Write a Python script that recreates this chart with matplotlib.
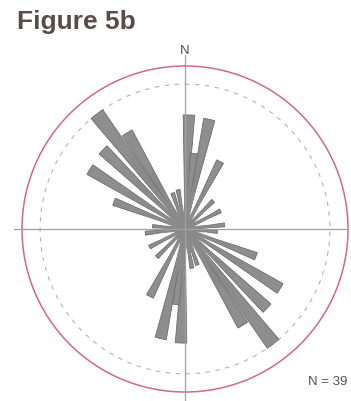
import numpy as np
import matplotlib
matplotlib.use("Agg")
import matplotlib.pyplot as plt

# axial directions (degrees from north, 0-180) and petal lengths (counts)
directions = [2, 7, 12.5, 27.5, 45, 63, 84, 95, 111, 122, 134, 142.5, 149, 161, 170]
lengths = [3.15, 2.1, 3.1, 2.1, 1.1, 1.1, 1.1, 0.9, 2.1, 3.1, 3.15, 4.0, 3.1, 1.05, 1.1]
title = "Figure 5b"
n_label = "N = 39"

W, H = 351, 401
fig = plt.figure(figsize=(W / 100, H / 100), dpi=100)
fig.patch.set_facecolor("white")

# polar axes placed so the outer (red) ring is centred at (185, 229) px, radius 163 px
cx, cy, R = 185, 229, 163
ax = fig.add_axes([(cx - R) / W, (H - cy - R) / H, 2 * R / W, 2 * R / H], projection="polar")
ax.set_theta_zero_location("N")
ax.set_theta_direction(-1)
rmax = 4.5
ax.set_rlim(0, rmax)
ax.set_xticks([])
ax.set_yticks([])
ax.grid(False)
ax.patch.set_alpha(0)
ax.spines["polar"].set_color("#d06a86")
ax.spines["polar"].set_linewidth(1.1)

# dashed reference ring
t = np.linspace(0, 2 * np.pi, 400)
ax.plot(t, np.full_like(t, 4.0), color="#b4b4b4", lw=0.8, ls=(0, (4, 5)), zorder=1)

# petals, drawn both ways (axial data)
theta = np.radians(np.concatenate([directions, np.array(directions) + 180]))
radii = np.concatenate([lengths, lengths])
ax.bar(theta, radii, width=np.radians(5.8), color="#8e8e8e", edgecolor="#6e6e6e",
       linewidth=0.6, zorder=2)
# keep the petals some body near the centre
for th, r in zip(theta, radii):
    ax.plot([th, th], [0, r * 0.6], color="#8a8a8a", lw=2.6, solid_capstyle="butt", zorder=3)

# cross hairs
for ang, ext in [(0, 4.8), (90, 4.45), (180, 4.75), (270, 4.72)]:
    ax.plot([np.radians(ang)] * 2, [0, ext], color="#a0a0a0", lw=0.9, zorder=4, clip_on=False)

fig.text(cx / W, 1 - 51 / H, "N", ha="center", va="center", fontsize=9.5,
         color="#505050", family="Liberation Sans")
fig.text(17 / W, 1 - 29 / H, title, ha="left", va="baseline", fontsize=19,
         weight="bold", color="#5a4c4a", family="Liberation Sans")
fig.text(308 / W, 1 - 382 / H, n_label, ha="left", va="center", fontsize=9.5,
         color="#505050", family="Liberation Sans")

fig.savefig("out.png", dpi=100)
